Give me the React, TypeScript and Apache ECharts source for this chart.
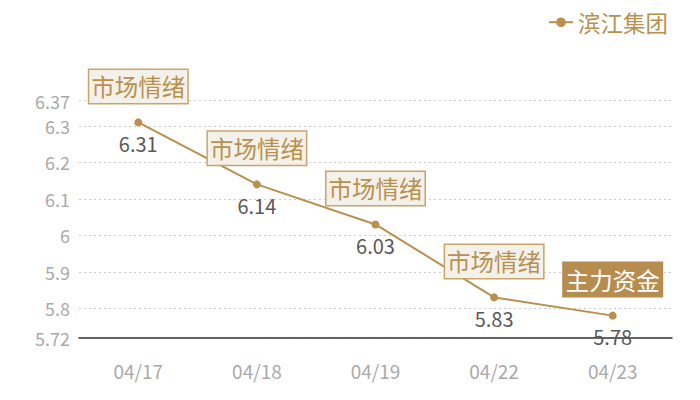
import React, { useEffect, useRef } from "react";
import * as echarts from "echarts";

const categories = ["04/17", "04/18", "04/19", "04/22", "04/23"];
const values = [6.31, 6.14, 6.03, 5.83, 5.78];
const tags = ["市场情绪", "市场情绪", "市场情绪", "市场情绪", "主力资金"];
const seriesName = "滨江集团";
const yMin = 5.72;
const yMax = 6.37;

const GOLD = "#b8914f";
const FONT = "'Noto Sans CJK SC', 'Noto Sans', sans-serif";

export default function App() {
  const ref = useRef<HTMLDivElement>(null);
  useEffect(() => {
    if (!ref.current) return;
    const chart = echarts.init(ref.current, undefined, { renderer: "svg" });
    const markData = categories.map((c, i) => {
      const solid = tags[i] === "主力资金";
      return {
        coord: [c, values[i]],
        value: tags[i],
        label: {
          show: true,
          position: "inside",
          offset: [0, -36],
          formatter: tags[i],
          fontSize: 23.5,
          fontFamily: FONT,
          color: solid ? "#ffffff" : GOLD,
          backgroundColor: solid ? "#b68d4e" : "#f4f0ea",
          borderColor: solid ? "#b68d4e" : "#c9a56b",
          borderWidth: 1.5,
          padding: [2, 2, 1, 2],
          lineHeight: 30,
        },
      };
    });
    chart.setOption({
      animation: false,
      textStyle: { fontFamily: FONT },
      legend: {
        top: 6,
        right: 27,
        itemWidth: 24,
        itemHeight: 12,
        itemGap: 10,
        textStyle: { color: GOLD, fontSize: 22.5, fontFamily: FONT },
        data: [seriesName],
      },
      grid: { left: 79, right: 28, top: 100.5, bottom: 62.5 },
      xAxis: {
        type: "category",
        data: categories,
        boundaryGap: true,
        axisLine: { show: true, lineStyle: { color: "#333", width: 1.5 } },
        axisTick: { show: false },
        axisLabel: { color: "#aaa", fontSize: 19, margin: 23, fontFamily: FONT },
        splitLine: { show: false },
      },
      yAxis: {
        type: "value",
        min: yMin,
        max: yMax,
        splitNumber: 6,
        axisLine: { show: false },
        axisTick: { show: false },
        axisLabel: { color: "#aaa", fontSize: 18, margin: 9, fontFamily: FONT, showMinLabel: true, showMaxLabel: true },
        splitLine: { show: true, lineStyle: { color: "#ccc", type: [2, 3], width: 1 } },
      },
      series: [
        {
          name: seriesName,
          type: "line",
          data: values,
          symbol: "circle",
          symbolSize: 8,
          itemStyle: { color: GOLD },
          lineStyle: { color: GOLD, width: 2 },
          label: {
            show: true,
            position: "bottom",
            distance: 7,
            color: "#5a5a5a",
            fontSize: 20,
            fontFamily: FONT,
          },
          markPoint: {
            symbol: "rect",
            symbolSize: 0,
            data: markData,
          },
        },
      ],
    });
    return () => chart.dispose();
  }, []);
  return <div ref={ref} style={{ width: 700, height: 400, position: "absolute", left: 0, top: 0 }} />;
}
